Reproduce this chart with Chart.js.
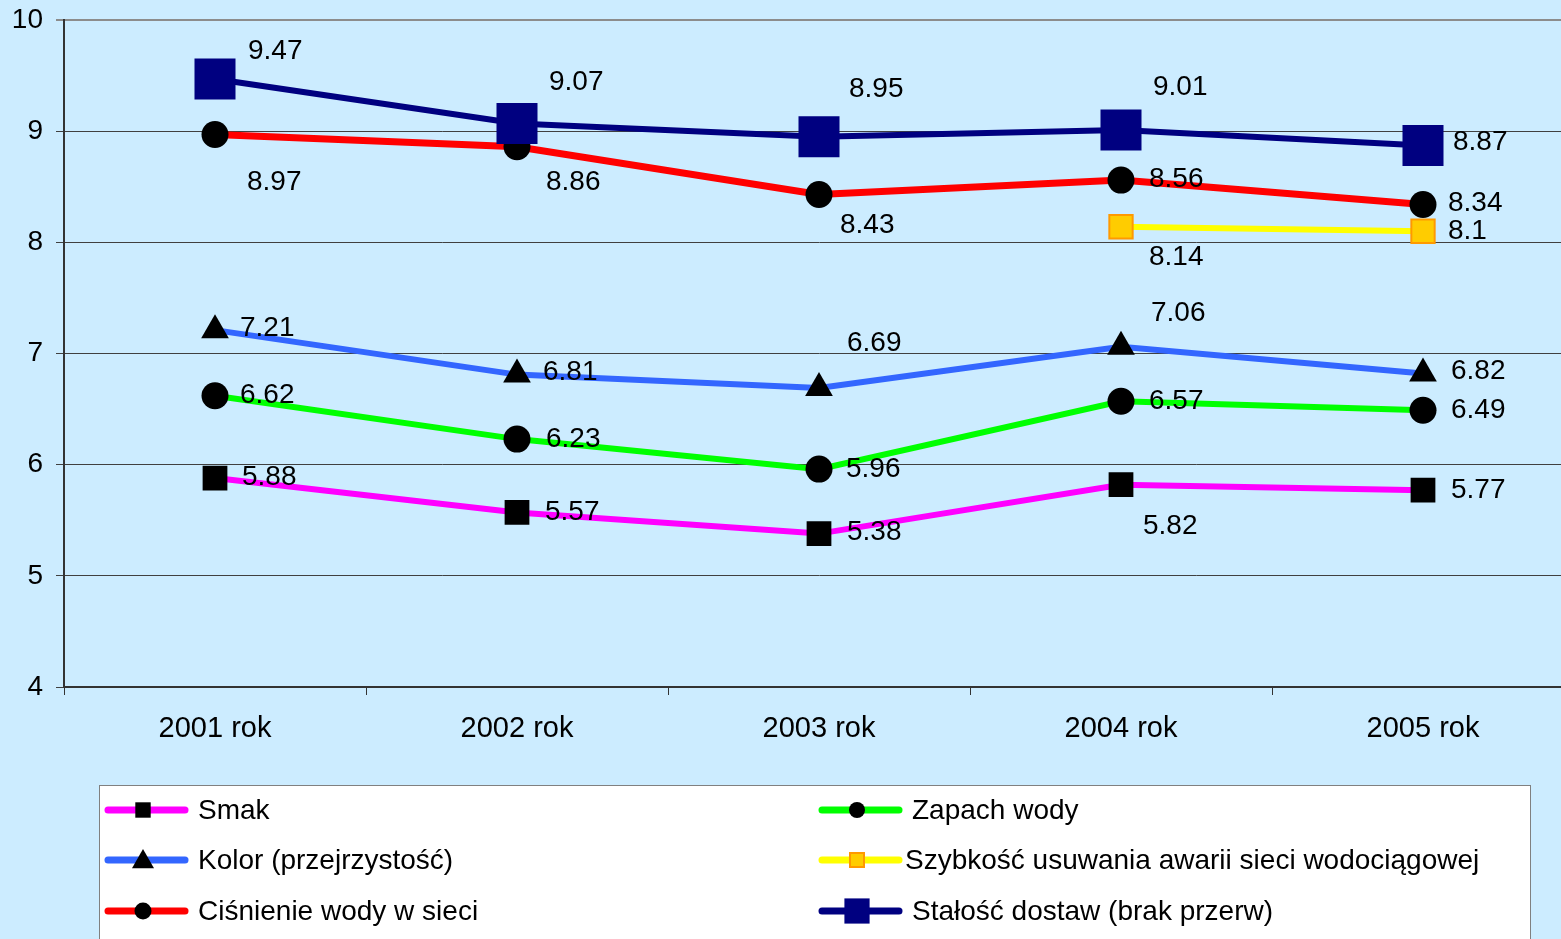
<!DOCTYPE html>
<html>
<head>
<meta charset="utf-8">
<script src="https://cdn.jsdelivr.net/npm/chart.js@4.4.1/dist/chart.umd.min.js"></script>
<style>
  html, body { margin: 0; padding: 0; background: #ccecff; overflow: hidden; }
  canvas { display: block; }
</style>
</head>
<body>
<canvas id="chart" width="1580" height="939"></canvas>
<script>
// dane
const years = ['2001 rok', '2002 rok', '2003 rok', '2004 rok', '2005 rok'];
const smak = [5.88, 5.57, 5.38, 5.82, 5.77];
const zapach = [6.62, 6.23, 5.96, 6.57, 6.49];
const kolor = [7.21, 6.81, 6.69, 7.06, 6.82];
const szybkosc = [null, null, null, 8.14, 8.1];
const cisnienie = [8.97, 8.86, 8.43, 8.56, 8.34];
const stalosc = [9.47, 9.07, 8.95, 9.01, 8.87];
const yTicks = [4, 5, 6, 7, 8, 9, 10];

// przesunięcia etykiet danych (dx, dy) względem punktu
const labelOffsets = {
    smak: [[27, -1], [28, 0], [28, -1], [22, 42], [28, 0]],
    zapach: [[25, 0], [29, 0], [27, 0], [28, 0], [28, 0]],
    kolor: [[25, -2], [26, -2], [28, -45], [30, -34], [28, -2]],
    szybkosc: [null, null, null, [28, 31], [25, 0]],
    cisnienie: [[32, 48], [29, 36], [21, 31], [28, -1], [25, -1]],
    stalosc: [[33, -28], [32, -41], [30, -47], [32, -43], [30, -3]]
};

const FONT = "'Liberation Sans', Arial, sans-serif";

function series(key, label, data, color, style, radius, fill, border, width) {
    return {
        key: key,
        label: label,
        data: data,
        borderColor: color,
        borderWidth: width,
        pointStyle: style,
        pointRadius: radius,
        pointHoverRadius: radius,
        pointBackgroundColor: fill,
        pointBorderColor: border,
        pointBorderWidth: border === fill ? 0 : 2,
        tension: 0,
        spanGaps: false
    };
}

const datasets = [
    series('smak', 'Smak', smak, '#ff00ff', 'rect', 17.5, '#000000', '#000000', 6),
    series('zapach', 'Zapach wody', zapach, '#00ff00', 'circle', 13.5, '#000000', '#000000', 6),
    series('kolor', 'Kolor (przejrzystość)', kolor, '#3366ff', 'triangle', 16, '#000000', '#000000', 6),
    series('szybkosc', 'Szybkość usuwania awarii sieci wodociągowej', szybkosc, '#ffff00', 'rect', 16.5, '#ffcc00', '#ff9900', 6),
    series('cisnienie', 'Ciśnienie wody w sieci', cisnienie, '#ff0000', 'circle', 13.5, '#000000', '#000000', 7),
    series('stalosc', 'Stałość dostaw (brak przerw)', stalosc, '#000080', 'rect', 29, '#000080', '#000080', 6)
];
datasets.forEach((d, i) => { d.order = datasets.length - i; });

const dataLabels = {
    id: 'dataLabels',
    afterDatasetsDraw(chart) {
        const ctx = chart.ctx;
        ctx.save();
        ctx.font = '28px ' + FONT;
        ctx.fillStyle = '#000000';
        ctx.textAlign = 'left';
        ctx.textBaseline = 'middle';
        chart.data.datasets.forEach((ds, i) => {
            const meta = chart.getDatasetMeta(i);
            meta.data.forEach((pt, j) => {
                const v = ds.data[j];
                const off = labelOffsets[ds.key][j];
                if (v === null || !off) return;
                ctx.fillText(String(v), pt.x + off[0], pt.y + off[1]);
            });
        });
        ctx.restore();
    }
};

// legenda w stylu Excela: ramka, dwie kolumny
const boxLegend = {
    id: 'boxLegend',
    afterDraw(chart) {
        const ctx = chart.ctx;
        ctx.save();
        ctx.fillStyle = '#ffffff';
        ctx.fillRect(99, 785, 1431, 170);
        ctx.strokeStyle = '#808080';
        ctx.lineWidth = 1;
        ctx.strokeRect(99.5, 785.5, 1431, 170);

        const layout = [
            ['smak', 0, 0], ['zapach', 1, 0],
            ['kolor', 0, 1], ['szybkosc', 1, 1],
            ['cisnienie', 0, 2], ['stalosc', 1, 2]
        ];
        const colX = [108, 822];
        const rowY = [810, 860, 911];
        const markerSize = { smak: 11, zapach: 8, kolor: 11, szybkosc: 10, cisnienie: 8.5, stalosc: 18 };

        layout.forEach(([key, c, r]) => {
            const ds = chart.data.datasets.find(d => d.key === key);
            const x0 = colX[c], y = rowY[r];
            const cx = x0 + 35;
            ctx.strokeStyle = ds.borderColor;
            ctx.lineWidth = 7;
            ctx.lineCap = 'round';
            ctx.beginPath();
            ctx.moveTo(x0, y);
            ctx.lineTo(x0 + 77, y);
            ctx.stroke();
            ctx.fillStyle = ds.pointBackgroundColor;
            ctx.strokeStyle = ds.pointBorderColor;
            ctx.lineWidth = ds.pointBorderWidth;
            ctx.beginPath();
            const s = markerSize[key];
            if (ds.pointStyle === 'circle') {
                ctx.arc(cx, y, s, 0, Math.PI * 2);
                ctx.fill();
            } else if (ds.pointStyle === 'triangle') {
                ctx.moveTo(cx, y - s * 1.0);
                ctx.lineTo(cx + s, y + s * 0.75);
                ctx.lineTo(cx - s, y + s * 0.75);
                ctx.closePath();
                ctx.fill();
            } else {
                ctx.rect(cx - s * 0.7, y - s * 0.7, s * 1.4, s * 1.4);
                ctx.fill();
                if (ds.pointBorderWidth) ctx.stroke();
            }
            ctx.fillStyle = '#000000';
            ctx.font = '28px ' + FONT;
            ctx.textAlign = 'left';
            ctx.textBaseline = 'middle';
            if (key === 'szybkosc') ctx.fillText(ds.label, x0 + 83, y + 1, 620);
            else ctx.fillText(ds.label, x0 + 90, y + 1);
        });
        ctx.restore();
    }
};

new Chart(document.getElementById('chart'), {
    type: 'line',
    data: { labels: years, datasets: datasets },
    options: {
        responsive: false,
        animation: false,
        layout: { autoPadding: false, padding: { top: 20, right: 6, bottom: 0, left: 0 } },
        plugins: {
            legend: { display: false },
            tooltip: { enabled: false }
        },
        scales: {
            x: {
                offset: true,
                grid: {
                    offset: true,
                    drawOnChartArea: false,
                    drawTicks: true,
                    tickLength: 8,
                    color: '#333333',
                    lineWidth: 1
                },
                border: { color: '#333333', width: 2 },
                ticks: {
                    font: { family: FONT, size: 29 },
                    color: '#000000',
                    padding: 17,
                    maxRotation: 0
                },
                afterFit(scale) {
                    scale.height = 252;
                    scale.paddingLeft = 0;
                    scale.paddingRight = 0;
                }
            },
            y: {
                min: 4,
                max: 10,
                afterBuildTicks(scale) { scale.ticks = yTicks.map(v => ({ value: v })); },
                grid: {
                    color: ctx => ctx.tick && ctx.tick.value === 10 ? '#8c8c8c' : '#404040',
                    lineWidth: ctx => ctx.tick && ctx.tick.value === 10 ? 2 : 1,
                    tickLength: 8
                },
                border: { color: '#333333', width: 2 },
                ticks: {
                    font: { family: FONT, size: 28 },
                    color: '#000000',
                    padding: 13
                },
                afterFit(scale) {
                    scale.width = 64;
                    scale.paddingTop = 0;
                    scale.paddingBottom = 0;
                }
            }
        }
    },
    plugins: [dataLabels, boxLegend]
});
</script>
</body>
</html>
